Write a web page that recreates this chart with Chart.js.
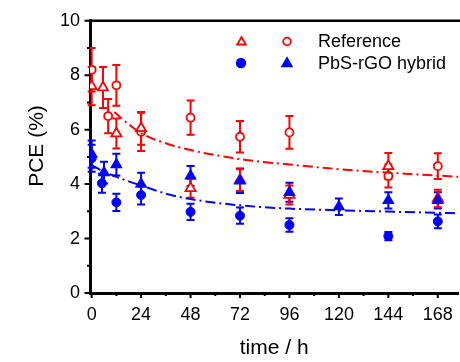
<!DOCTYPE html>
<html><head><meta charset="utf-8">
<script src="https://cdn.jsdelivr.net/npm/chart.js@4/dist/chart.umd.min.js"></script>
<style>html,body{margin:0;padding:0;background:#fff;overflow:hidden}canvas{display:block}</style>
</head><body>
<canvas id="c" width="466" height="362"></canvas>
<script>
// ---- data ----
const xTicks = [0, 24, 48, 72, 96, 120, 144, 168];
const yTicks = [0, 2, 4, 6, 8, 10];
const seriesNames = ['Reference', 'PbS-rGO hybrid'];

const refTriX   = [0, 5.5, 12, 24, 48, 72, 96, 144, 168];
const refTriY   = [7.6, 7.55, 5.86, 6.05, 3.85, 4.15, 3.6, 4.66, 3.47];
const refTriErr = [0.7, 0.75, 0.55, 0.6, 0.35, 0.4, 0.35, 0.48, 0.32];

const refCircX   = [0, 8, 12, 24, 48, 72, 96, 144, 168];
const refCircY   = [8.2, 6.5, 7.63, 5.92, 6.44, 5.74, 5.9, 4.3, 4.66];
const refCircErr = [0.8, 0.63, 0.75, 0.7, 0.63, 0.58, 0.6, 0.42, 0.47];

const hybCircX   = [0, 5, 12, 24, 48, 72, 96, 144, 168];
const hybCircY   = [4.95, 4.03, 3.33, 3.6, 2.98, 2.84, 2.5, 2.09, 2.63];
const hybCircErr = [0.5, 0.35, 0.32, 0.35, 0.3, 0.3, 0.25, 0.15, 0.25];

const hybTriX   = [0, 6, 12, 24, 48, 72, 96, 120, 144, 168];
const hybTriY   = [5.1, 4.42, 4.72, 4.0, 4.3, 4.12, 3.7, 3.17, 3.4, 3.4];
const hybTriErr = [0.5, 0.4, 0.4, 0.42, 0.37, 0.45, 0.35, 0.3, 0.3, 0.3];

const refFitX = [11, 18, 24, 36, 48, 72, 96, 120, 144, 178];
const refFitY = [6.65, 6.2, 5.87, 5.5, 5.25, 4.92, 4.72, 4.55, 4.42, 4.27];
const hybFitX = [0, 6, 12, 18, 24, 36, 48, 72, 96, 120, 144, 178];
const hybFitY = [4.7, 4.45, 4.27, 4.1, 3.95, 3.65, 3.45, 3.22, 3.1, 3.04, 2.99, 2.93];

// ---- styling ----
const RED = '#ff0000', BLUE = '#0000ff';
const FONT = '"Liberation Sans", Arial, sans-serif';
const pts = (xs, ys) => xs.map((x, i) => ({x: x, y: ys[i]}));

const errBars = {
  id: 'errBars',
  beforeDatasetsDraw(chart) {
    const ctx = chart.ctx, xs = chart.scales.x, ys = chart.scales.y;
    chart.data.datasets.forEach(ds => {
      if (!ds.errors) return;
      ctx.save();
      ctx.strokeStyle = ds.borderColor;
      ctx.lineWidth = 2;
      ds.data.forEach((p, i) => {
        const e = ds.errors[i];
        const px = xs.getPixelForValue(p.x);
        const t = ys.getPixelForValue(p.y + e), b = ys.getPixelForValue(p.y - e);
        ctx.beginPath();
        ctx.moveTo(px, t); ctx.lineTo(px, b);
        ctx.moveTo(px - 4, t); ctx.lineTo(px + 4, t);
        ctx.moveTo(px - 4, b); ctx.lineTo(px + 4, b);
        ctx.stroke();
      });
      ctx.restore();
    });
  }
};

const frame = {
  id: 'frame',
  afterDraw(chart) {
    const ctx = chart.ctx, a = chart.chartArea, xs = chart.scales.x, ys = chart.scales.y;
    ctx.save();
    ctx.strokeStyle = '#000';
    ctx.lineWidth = 2.5;
    ctx.beginPath();
    ctx.moveTo(a.left, a.top); ctx.lineTo(a.right + 5, a.top);
    ctx.stroke();
    ctx.lineWidth = 2;
    ctx.beginPath();
    for (let v = 0; v <= 176; v += 12) {
      const px = xs.getPixelForValue(v);
      const len = (v % 24 === 0) ? 5 : 3;
      ctx.moveTo(px, a.bottom); ctx.lineTo(px, a.bottom + len);
    }
    for (let v = 0; v <= 10; v += 1) {
      const py = ys.getPixelForValue(v);
      const len = (v % 2 === 0) ? 5.5 : 3;
      ctx.moveTo(a.left, py); ctx.lineTo(a.left - len, py);
    }
    ctx.stroke();
    // y axis title
    ctx.save();
    ctx.translate(37, 146);
    ctx.rotate(-Math.PI / 2);
    ctx.font = '21px ' + FONT;
    ctx.fillStyle = '#000';
    ctx.textAlign = 'center';
    ctx.textBaseline = 'middle';
    ctx.fillText('PCE (%)', 0, 0);
    ctx.restore();
    // legend
    const drawMark = (style, fill, stroke, r, x, y) => {
      ctx.save();
      ctx.fillStyle = fill; ctx.strokeStyle = stroke; ctx.lineWidth = 1.8;
      Chart.helpers.drawPoint(ctx, {pointStyle: style, radius: r, borderWidth: 1.8, rotation: 0}, x, y);
      ctx.restore();
    };
    drawMark('triangle', '#fff', RED, 5, 241.5, 42);
    drawMark('circle', '#fff', RED, 3.8, 287, 41.5);
    drawMark('circle', BLUE, BLUE, 4.3, 241, 63);
    drawMark('triangle', BLUE, BLUE, 5.5, 287, 63.5);
    ctx.font = '18px ' + FONT;
    ctx.fillStyle = '#000';
    ctx.textAlign = 'left';
    ctx.textBaseline = 'middle';
    ctx.fillText(seriesNames[0], 318, 42);
    ctx.fillText(seriesNames[1], 318, 64);
    ctx.restore();
  }
};

new Chart(document.getElementById('c'), {
  type: 'scatter',
  data: {
    datasets: [
      {label: 'Reference fit', data: pts(refFitX, refFitY), showLine: true, pointRadius: 0,
       borderColor: RED, borderWidth: 2, borderDash: [10, 4, 2, 4], tension: 0.4, cubicInterpolationMode: 'monotone'},
      {label: 'Hybrid fit', data: pts(hybFitX, hybFitY), showLine: true, pointRadius: 0,
       borderColor: BLUE, borderWidth: 2, borderDash: [10, 4, 2, 4], tension: 0.4, cubicInterpolationMode: 'monotone'},
      {label: 'PbS-rGO hybrid (circle)', data: pts(hybCircX, hybCircY), errors: hybCircErr,
       pointStyle: 'circle', pointRadius: 4.5, borderWidth: 1, borderColor: BLUE, backgroundColor: BLUE},
      {label: 'PbS-rGO hybrid (triangle)', data: pts(hybTriX, hybTriY), errors: hybTriErr,
       pointStyle: 'triangle', pointRadius: 5.8, borderWidth: 1.5, borderColor: BLUE, backgroundColor: BLUE},
      {label: 'Reference (triangle)', data: pts(refTriX, refTriY), errors: refTriErr,
       pointStyle: 'triangle', pointRadius: 5.8, borderWidth: 1.8, borderColor: RED, backgroundColor: '#fff'},
      {label: 'Reference (circle)', data: pts(refCircX, refCircY), errors: refCircErr,
       pointStyle: 'circle', pointRadius: 4, borderWidth: 1.8, borderColor: RED, backgroundColor: '#fff'}
    ]
  },
  options: {
    responsive: false,
    animation: false,
    layout: {padding: {top: 15, right: 0, left: 0, bottom: 0}},
    plugins: {legend: {display: false}, tooltip: {enabled: false}},
    scales: {
      x: {
        type: 'linear', min: -0.8, max: 178,
        afterBuildTicks: s => { s.ticks = xTicks.map(v => ({value: v})); },
        afterFit: s => { s.height = 69; },
        grid: {display: false, drawTicks: false},
        border: {display: true, color: '#000', width: 3},
        ticks: {color: '#000', padding: 11, maxRotation: 0, font: {family: FONT, size: 18}},
        title: {display: true, text: 'time / h', color: '#000', padding: {top: 0, bottom: 1}, font: {family: FONT, size: 21}}
      },
      y: {
        type: 'linear', min: 0, max: 10,
        afterBuildTicks: s => { s.ticks = yTicks.map(v => ({value: v})); },
        afterFit: s => { s.width = 90; },
        grid: {display: false, drawTicks: false},
        border: {display: true, color: '#000', width: 3},
        ticks: {color: '#000', padding: 10, font: {family: FONT, size: 18}}
      }
    }
  },
  plugins: [errBars, frame]
});
</script>
</body></html>
